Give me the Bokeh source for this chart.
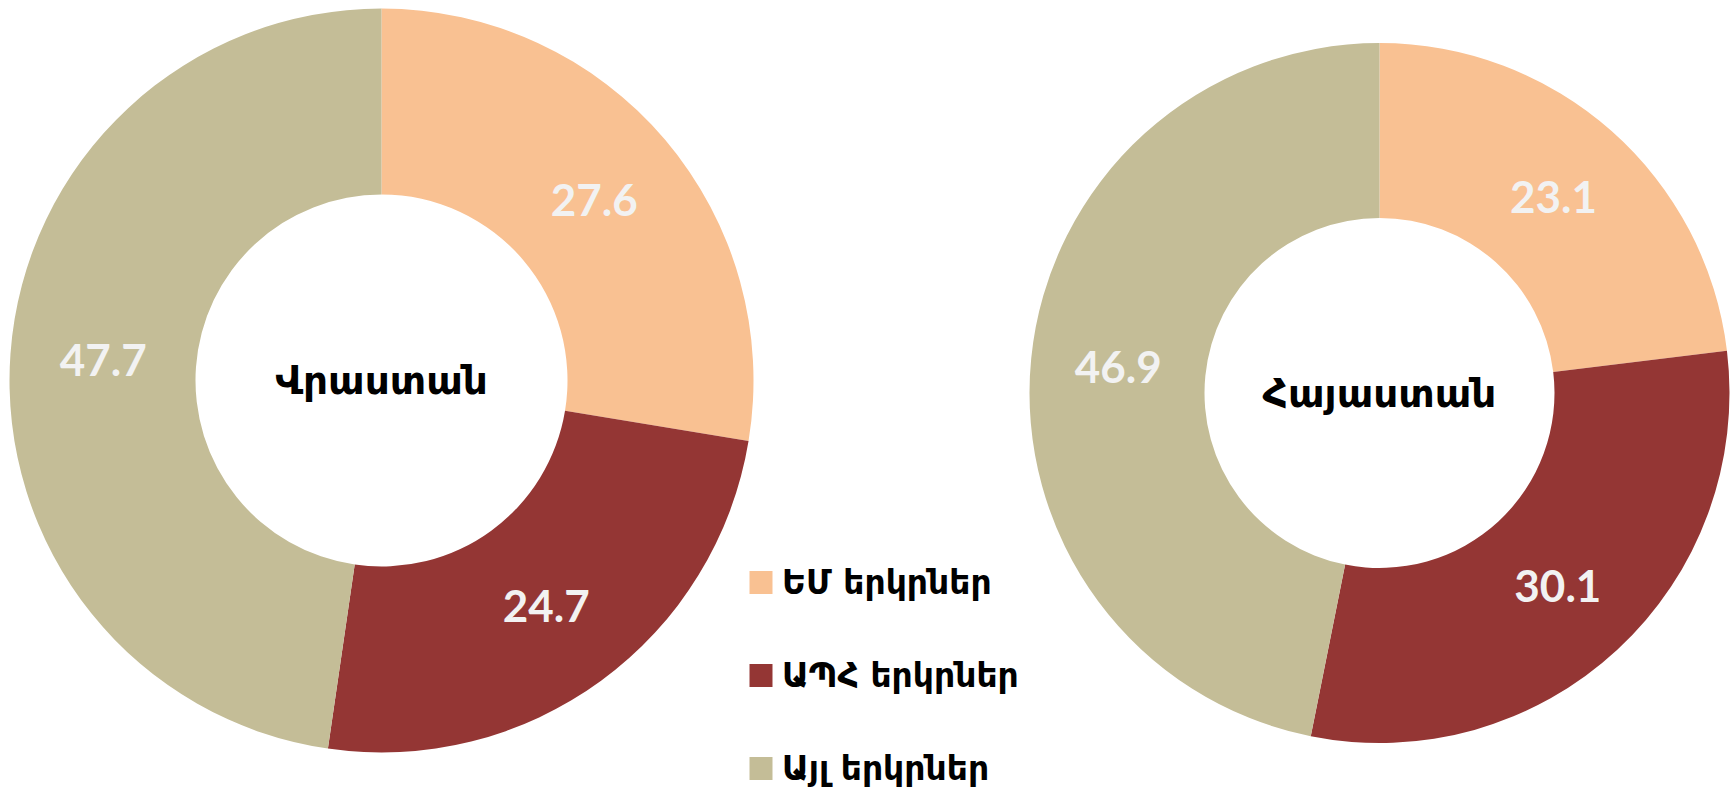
import math
from bokeh.plotting import figure
from bokeh.models import Range1d, ColumnDataSource
from bokeh.embed import file_html
from bokeh.resources import INLINE
from bokeh.core.properties import value

# ---- data ----
categories = ["ԵՄ երկրներ", "ԱՊՀ  երկրներ", "Այլ երկրներ"]
colors = ["#F9C192", "#943634", "#C4BD97"]
georgia_name = "Վրաստան"
georgia_values = [27.6, 24.7, 47.7]
armenia_name = "Հայաստան"
armenia_values = [23.1, 30.1, 46.9]

W, H = 1732, 791
p = figure(width=W, height=H, output_backend="svg", toolbar_location=None,
           x_range=Range1d(0, W), y_range=Range1d(0, H), min_border=0)
p.axis.visible = False
p.grid.visible = False
p.outline_line_color = None
p.background_fill_color = "white"
p.border_fill_color = "white"

ARM = "DejaVu Sans"


def donut(cx, cy, r_out, r_in, vals, name):
    total = sum(vals)
    starts, ends, lx, ly, labels = [], [], [], [], []
    cum = 0.0
    rm = (r_out + r_in) / 2
    for v in vals:
        a0 = math.pi / 2 - 2 * math.pi * cum / total
        a1 = math.pi / 2 - 2 * math.pi * (cum + v) / total
        am = (a0 + a1) / 2
        starts.append(a0)
        ends.append(a1)
        lx.append(cx + rm * math.cos(am))
        ly.append(cy + rm * math.sin(am))
        labels.append(f"{v:.1f}")
        cum += v
    src = ColumnDataSource(dict(start=starts, end=ends, color=colors,
                                lx=lx, ly=ly, label=labels))
    p.annular_wedge(x=cx, y=cy, inner_radius=r_in, outer_radius=r_out,
                    start_angle="start", end_angle="end", direction="clock",
                    fill_color="color", line_color=None, source=src)
    p.text(x="lx", y="ly", text="label", source=src,
           text_font=value("Lato"), text_font_style="bold",
           text_font_size="44px", text_color="#F2F2F2",
           text_align="center", text_baseline="middle")
    p.text(x=[cx], y=[cy], text=[name], text_font=value(ARM),
           text_font_style="bold", text_font_size="39px", text_color="black",
           text_align="center", text_baseline="middle")


# page coords -> data coords: x = px, y = 791 - py
donut(381, 411, 372, 186, georgia_values, georgia_name)
donut(1379, 398.5, 350, 175, armenia_values, armenia_name)

# legend
leg_x = 760.5
leg_y = [209 - 93 * i for i in range(len(categories))]
p.scatter(x=[leg_x] * len(categories), y=leg_y, marker="square", size=23,
          fill_color=colors, line_color=None)
p.text(x=[leg_x + 21] * len(categories), y=leg_y, text=categories,
       text_font=value(ARM), text_font_style="bold", text_font_size="33px",
       text_color="black", text_align="left", text_baseline="middle")

open("out.html", "w").write(file_html(p, INLINE))
